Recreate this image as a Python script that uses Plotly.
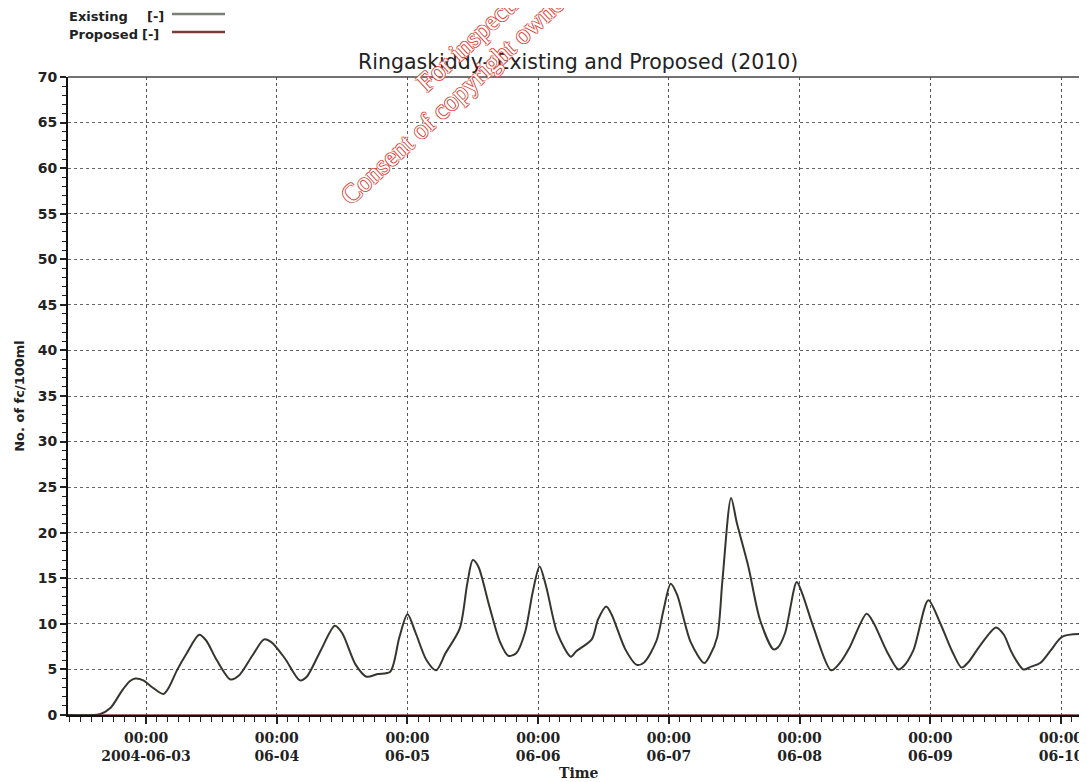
import pandas as pd
import plotly.graph_objects as go

# ---------------- data ----------------
existing_times = [
    "2004-06-02 09:40", "2004-06-02 15:30", "2004-06-02 17:30", "2004-06-02 19:30", "2004-06-02 21:00",
    "2004-06-02 22:00", "2004-06-02 23:30", "2004-06-03 01:00", "2004-06-03 03:10", "2004-06-03 04:10",
    "2004-06-03 05:40", "2004-06-03 07:30", "2004-06-03 09:45", "2004-06-03 11:00", "2004-06-03 13:00",
    "2004-06-03 15:30", "2004-06-03 17:00", "2004-06-03 19:30", "2004-06-03 21:40", "2004-06-03 23:00",
    "2004-06-04 01:30", "2004-06-04 04:15", "2004-06-04 05:30", "2004-06-04 08:00", "2004-06-04 10:40",
    "2004-06-04 12:00", "2004-06-04 14:30", "2004-06-04 16:30", "2004-06-04 18:30", "2004-06-04 20:50",
    "2004-06-04 22:30", "2004-06-05 00:00", "2004-06-05 01:30", "2004-06-05 03:30", "2004-06-05 05:15",
    "2004-06-05 07:00", "2004-06-05 09:36", "2004-06-05 11:00", "2004-06-05 12:00", "2004-06-05 13:00",
    "2004-06-05 15:00", "2004-06-05 17:00", "2004-06-05 18:30", "2004-06-05 20:00", "2004-06-05 21:36",
    "2004-06-05 23:00", "2004-06-06 00:15", "2004-06-06 01:30", "2004-06-06 03:30", "2004-06-06 06:00",
    "2004-06-06 07:00", "2004-06-06 09:50", "2004-06-06 11:00", "2004-06-06 12:30", "2004-06-06 13:30",
    "2004-06-06 16:00", "2004-06-06 18:06", "2004-06-06 19:30", "2004-06-06 21:45", "2004-06-06 23:00",
    "2004-06-07 00:20", "2004-06-07 01:30", "2004-06-07 04:00", "2004-06-07 06:30", "2004-06-07 07:30",
    "2004-06-07 08:53", "2004-06-07 09:50", "2004-06-07 11:25", "2004-06-07 12:30", "2004-06-07 14:35",
    "2004-06-07 16:45", "2004-06-07 19:12", "2004-06-07 20:00", "2004-06-07 21:20", "2004-06-07 23:28",
    "2004-06-08 00:30", "2004-06-08 02:30", "2004-06-08 05:47", "2004-06-08 07:30", "2004-06-08 09:15",
    "2004-06-08 12:18", "2004-06-08 13:30", "2004-06-08 16:00", "2004-06-08 18:07", "2004-06-08 19:00",
    "2004-06-08 20:53", "2004-06-08 23:38", "2004-06-09 01:48", "2004-06-09 04:00", "2004-06-09 05:45",
    "2004-06-09 07:00", "2004-06-09 09:00", "2004-06-09 12:04", "2004-06-09 13:30", "2004-06-09 15:00",
    "2004-06-09 17:05", "2004-06-09 18:30", "2004-06-09 20:10", "2004-06-09 22:00", "2004-06-10 00:15",
    "2004-06-10 04:45",
]
existing_values = [
    0.0, 0.1, 0.8, 2.6, 3.7,
    4.0, 3.8, 3.1, 2.3, 3.0,
    4.9, 6.8, 8.8, 8.2, 6.0,
    3.9, 4.3, 6.5, 8.3, 8.0,
    6.2, 3.8, 4.2, 7.0, 9.8,
    9.0, 5.5, 4.2, 4.5, 4.75,
    8.5, 11.05, 9.0, 6.0, 4.9,
    6.8, 9.5, 14.5, 17.0, 16.3,
    12.0, 8.0, 6.5, 6.8, 9.1,
    13.5, 16.3, 14.0, 9.0, 6.4,
    7.0, 8.3, 10.5, 11.9, 11.0,
    7.2, 5.5, 5.8, 8.2, 11.5,
    14.4, 13.2, 8.0, 5.7, 6.5,
    8.6, 14.8, 23.8, 21.0, 16.3,
    10.4, 7.2, 7.4, 9.0, 14.6,
    13.3, 9.7, 4.9, 5.8, 7.5,
    11.1, 10.2, 7.0, 5.0, 5.3,
    7.1, 12.6, 10.1, 7.0, 5.2,
    5.8, 7.5, 9.6, 8.8, 6.8,
    5.0, 5.3, 5.7, 7.0, 8.6,
    8.9,
]

proposed_times = ["2004-06-02 09:40", "2004-06-03 12:00", "2004-06-05 12:00",
                  "2004-06-07 12:00", "2004-06-09 12:00", "2004-06-10 04:45"]
proposed_values = [0.0, 0.0, 0.0, 0.0, 0.0, 0.0]

day_ticks = ["2004-06-03", "2004-06-04", "2004-06-05", "2004-06-06",
             "2004-06-07", "2004-06-08", "2004-06-09", "2004-06-10"]
day_labels = ["00:00<br>2004-06-03", "00:00<br>06-04", "00:00<br>06-05", "00:00<br>06-06",
              "00:00<br>06-07", "00:00<br>06-08", "00:00<br>06-09", "00:00<br>06-10"]

x_range = ["2004-06-02 09:40", "2004-06-10 04:46"]
y_range = [0, 70]

title_text = "Ringaskiddy- Existing and Proposed (2010)"
y_title = "No. of fc/100ml"
x_title = "Time"
series_names = ["Existing", "Proposed"]
watermark_lines = ["For inspection purposes only.",
                   "Consent of copyright owner required for any other use."]

# ---------------- figure ----------------
EXIST_COLOR = "#34372f"
EXIST_LEGEND = "#7b8079"
PROP_COLOR = "#7a3b3b"
SANS = "DejaVu Sans, Arial, sans-serif"
SERIF = "DejaVu Serif, Times New Roman, serif"

# The page body has an 8px margin, so the figure is laid out 8px up/left of
# screen coordinates: plot area on screen spans x 68..1087, y 77..715.
OFF = 8
W, H = 1087 - OFF, 782 - OFF
L, T, B_SCREEN = 68, 77, 715

fig = go.Figure()
fig.add_trace(go.Scatter(
    x=pd.to_datetime(proposed_times), y=proposed_values, mode="lines",
    name=series_names[1], line=dict(color=PROP_COLOR, width=1.5),
))
fig.add_trace(go.Scatter(
    x=pd.to_datetime(existing_times), y=existing_values, mode="lines",
    name=series_names[0], line=dict(color=EXIST_COLOR, width=2, shape="spline", smoothing=0.8),
))

fig.update_layout(
    width=W, height=H,
    margin=dict(l=L - OFF, r=0, t=T - OFF, b=H - (B_SCREEN - OFF), autoexpand=False),
    paper_bgcolor="white", plot_bgcolor="white",
    showlegend=False,
    font=dict(family=SANS, color="#222"),
)

fig.update_xaxes(
    type="date", range=x_range,
    tickmode="array", tickvals=day_ticks, ticktext=day_labels,
    tickfont=dict(family=SERIF, size=14, color="#222", weight="bold"),
    ticks="outside", ticklen=7, tickwidth=1.5, tickcolor="#222",
    ticklabelstandoff=2,
    showline=True, linecolor="#111", linewidth=2, mirror=False,
    showgrid=True, gridcolor="#555", gridwidth=1.2, griddash="3px,3px",
    zeroline=False,
    minor=dict(dtick=2 * 3600 * 1000, tick0="2004-06-03", ticks="outside",
               ticklen=5, tickwidth=1, tickcolor="#222", showgrid=False),
)
fig.update_yaxes(
    range=y_range, tickmode="linear", tick0=0, dtick=5,
    tickfont=dict(family=SANS, size=14, color="#222", weight="bold"),
    ticks="outside", ticklen=6, tickwidth=1.5, tickcolor="#222",
    showline=True, linecolor="#111", linewidth=2, mirror=False,
    showgrid=True, gridcolor="#666", gridwidth=1.2, griddash="3px,3px",
    zeroline=False,
    title=dict(text=y_title, font=dict(family=SANS, size=13, color="#222", weight="bold"), standoff=10),
    minor=dict(dtick=1, ticks="outside", ticklen=4, tickwidth=1, tickcolor="#222", showgrid=False),
)


def px_x(p):
    return (p - L) / (1087 - L)


def px_y(p):
    return (B_SCREEN - p) / (B_SCREEN - T)


# top frame line
fig.add_shape(type="line", xref="paper", yref="paper", x0=0, x1=1, y0=1, y1=1,
              line=dict(color="#444", width=1.5))

# title
fig.add_annotation(text=title_text, xref="paper", yref="paper", x=px_x(578), y=px_y(62),
                   xanchor="center", yanchor="middle", showarrow=False,
                   font=dict(family=SANS, size=20.5, color="#222"))

# x axis title
fig.add_annotation(text=x_title, xref="paper", yref="paper", x=px_x(579), y=px_y(773),
                   xanchor="center", yanchor="middle", showarrow=False,
                   font=dict(family=SERIF, size=14, color="#222", weight="bold"))

# custom legend (text left, line sample right)
legend_rows = [(series_names[0], EXIST_LEGEND, 16, 145), (series_names[1], PROP_COLOR, 34, 140)]
for name, col, ypx, bracket_x in legend_rows:
    fig.add_annotation(text=name, xref="paper", yref="paper", x=px_x(67), y=px_y(ypx),
                       xanchor="left", yanchor="middle", showarrow=False,
                       font=dict(family=SANS, size=13, color="#222", weight="bold"))
    fig.add_annotation(text="[-]", xref="paper", yref="paper", x=px_x(bracket_x), y=px_y(ypx),
                       xanchor="left", yanchor="middle", showarrow=False,
                       font=dict(family=SANS, size=13, color="#222", weight="bold"))
    fig.add_shape(type="line", xref="paper", yref="paper", x0=px_x(172), x1=px_x(225),
                  y0=px_y(ypx - 2), y1=px_y(ypx - 2), line=dict(color=col, width=2.5))

# watermark (outlined red serif text), one annotation per line
wm_centers = [(537, -22), (562, -3)]
for txt, (cx, cy) in zip(watermark_lines, wm_centers):
    fig.add_annotation(text=txt, xref="paper", yref="paper", x=px_x(cx), y=px_y(cy),
                       xanchor="center", yanchor="middle", showarrow=False, textangle=-43,
                       font=dict(family="Liberation Serif, Times New Roman, serif", size=27, color="white",
                                 shadow="1px 0 0 #d8453a, -1px 0 0 #d8453a, 0 1px 0 #d8453a, 0 -1px 0 #d8453a"))

fig.write_html("out.html")
